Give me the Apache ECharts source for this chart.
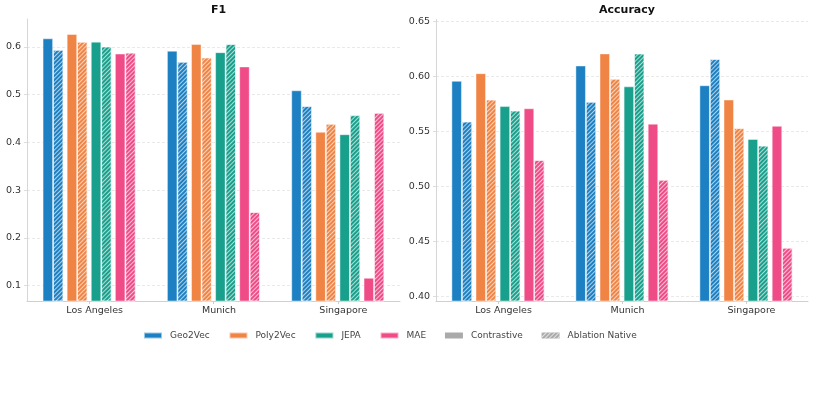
<!DOCTYPE html>
<html lang="en">
<head>
    <meta charset="UTF-8">
    <title>F1 / Accuracy</title>
    <script src="https://cdn.jsdelivr.net/npm/echarts@6/dist/echarts.min.js"></script>
    <style>
        html, body { margin: 0; padding: 0; background: #fff; }
    </style>
</head>
<body>
<div id="main" style="width:816px;height:396px"></div>
<script>
    // categories
    var cities = ['Los Angeles', 'Munich', 'Singapore'];

    // F1 (solid = full model, Abl = ablation native)
    var f1Geo2Vec     = [0.618, 0.592, 0.509];
    var f1Geo2VecAbl  = [0.594, 0.569, 0.476];
    var f1Poly2Vec    = [0.627, 0.606, 0.422];
    var f1Poly2VecAbl = [0.611, 0.578, 0.439];
    var f1Jepa        = [0.611, 0.589, 0.417];
    var f1JepaAbl     = [0.601, 0.606, 0.457];
    var f1Mae         = [0.586, 0.559, 0.116];
    var f1MaeAbl      = [0.588, 0.254, 0.462];

    // Accuracy
    var accGeo2Vec     = [0.596, 0.610, 0.592];
    var accGeo2VecAbl  = [0.559, 0.577, 0.616];
    var accPoly2Vec    = [0.603, 0.621, 0.579];
    var accPoly2VecAbl = [0.579, 0.598, 0.553];
    var accJepa        = [0.573, 0.591, 0.543];
    var accJepaAbl     = [0.569, 0.621, 0.537];
    var accMae         = [0.571, 0.557, 0.555];
    var accMaeAbl      = [0.524, 0.506, 0.444];

    var methods = ['Geo2Vec', 'Poly2Vec', 'JEPA', 'MAE'];
    var colors = ['#1c80c2', '#f08444', '#18a08c', '#ef4b87'];

    var FONT = 'DejaVu Sans';
    var BAR_W = 10.35;
    var SPACER_W = 3.4;

    var hatch = {
        symbol: 'rect',
        symbolSize: 1,
        dashArrayX: [1, 0],
        dashArrayY: [1, 2],
        rotation: -Math.PI / 4,
        color: 'rgba(255,255,255,0.65)'
    };

    function barSeries(name, data, color, hatched, idx) {
        var s = {
            name: name,
            type: 'bar',
            data: data,
            xAxisIndex: idx,
            yAxisIndex: idx,
            barWidth: BAR_W,
            barGap: '0%',
            itemStyle: {
                color: color,
                borderColor: 'rgba(255,255,255,0.55)',
                borderWidth: 0.8
            },
            emphasis: { disabled: true }
        };
        if (hatched) s.itemStyle.decal = hatch;
        return s;
    }

    function spacer(idx) {
        return {
            type: 'bar', data: [], xAxisIndex: idx, yAxisIndex: idx,
            barWidth: SPACER_W, barGap: '0%'
        };
    }

    function panelSeries(solid, abl, idx) {
        var out = [];
        for (var i = 0; i < methods.length; i++) {
            out.push(barSeries(methods[i], solid[i], colors[i], false, idx));
            out.push(barSeries(methods[i], abl[i], colors[i], true, idx));
            if (i < methods.length - 1) out.push(spacer(idx));
        }
        return out;
    }

    var series = []
        .concat(panelSeries([f1Geo2Vec, f1Poly2Vec, f1Jepa, f1Mae],
                            [f1Geo2VecAbl, f1Poly2VecAbl, f1JepaAbl, f1MaeAbl], 0))
        .concat(panelSeries([accGeo2Vec, accPoly2Vec, accJepa, accMae],
                            [accGeo2VecAbl, accPoly2VecAbl, accJepaAbl, accMaeAbl], 1));

    // legend-only entries, parked on a hidden grid
    series.push({ name: 'Contrastive', type: 'bar', data: [], xAxisIndex: 2, yAxisIndex: 2,
        itemStyle: { color: '#aaaaaa' } });
    series.push({ name: 'Ablation Native', type: 'bar', data: [], xAxisIndex: 2, yAxisIndex: 2,
        itemStyle: { color: '#aaaaaa', decal: hatch } });

    function xAxisFor(idx) {
        return {
            type: 'category', gridIndex: idx, data: cities,
            axisLine: { lineStyle: { color: '#cfcfcf', width: 1 } },
            axisTick: { show: true, length: 3, alignWithLabel: true, lineStyle: { color: '#cfcfcf' } },
            axisLabel: { fontFamily: FONT, fontSize: 9.5, color: '#333', margin: 5, padding: [0, 0, 0, 11] },
            splitLine: { show: false }
        };
    }

    function yAxisFor(idx, min, max, step, digits) {
        return {
            type: 'value', gridIndex: idx, min: min, max: max,
            minInterval: step, maxInterval: step,
            axisLine: { show: true, lineStyle: { color: '#d6d6d6', width: 1 } },
            axisTick: { show: true, length: 3, lineStyle: { color: '#dddddd' } },
            axisLabel: {
                fontFamily: FONT, fontSize: 9.5, color: '#333', margin: 6,
                showMinLabel: false, showMaxLabel: false,
                formatter: function (v) { return v.toFixed(digits); }
            },
            splitLine: {
                show: true, showMinLine: false, showMaxLine: false,
                lineStyle: { color: '#e3e3e3', width: 0.8, type: [3, 2] }
            }
        };
    }

    var myChart = echarts.init(document.getElementById('main'), null, { renderer: 'canvas' });
    myChart.setOption({
        animation: false,
        backgroundColor: '#ffffff',
        title: [
            { text: 'F1', left: 213.5, top: 0, textAlign: 'center',
              textStyle: { fontFamily: FONT, fontSize: 11, fontWeight: 'bold', color: '#111' } },
            { text: 'Accuracy', left: 622, top: 0, textAlign: 'center',
              textStyle: { fontFamily: FONT, fontSize: 11, fontWeight: 'bold', color: '#111' } }
        ],
        legend: {
            data: ['Geo2Vec', 'Poly2Vec', 'JEPA', 'MAE', 'Contrastive', 'Ablation Native'],
            left: 138, top: 326,
            icon: 'rect', itemWidth: 18, itemHeight: 6, itemGap: 18.8,
            selectedMode: false,
            textStyle: { fontFamily: FONT, fontSize: 9, color: '#444', padding: [0, 0, 0, 3] }
        },
        grid: [
            { left: 27, right: 416, top: 19, bottom: 95 },
            { left: 436, right: 8, top: 19.5, bottom: 95 },
            { left: 0, top: 0, width: 1, height: 1, show: false }
        ],
        xAxis: [
            xAxisFor(0),
            xAxisFor(1),
            { type: 'category', gridIndex: 2, show: false, data: ['x'] }
        ],
        yAxis: [
            yAxisFor(0, 0.0675, 0.6587, 0.1, 1),
            yAxisFor(1, 0.3955, 0.652, 0.05, 2),
            { type: 'value', gridIndex: 2, show: false }
        ],
        series: series
    });
</script>
</body>
</html>
